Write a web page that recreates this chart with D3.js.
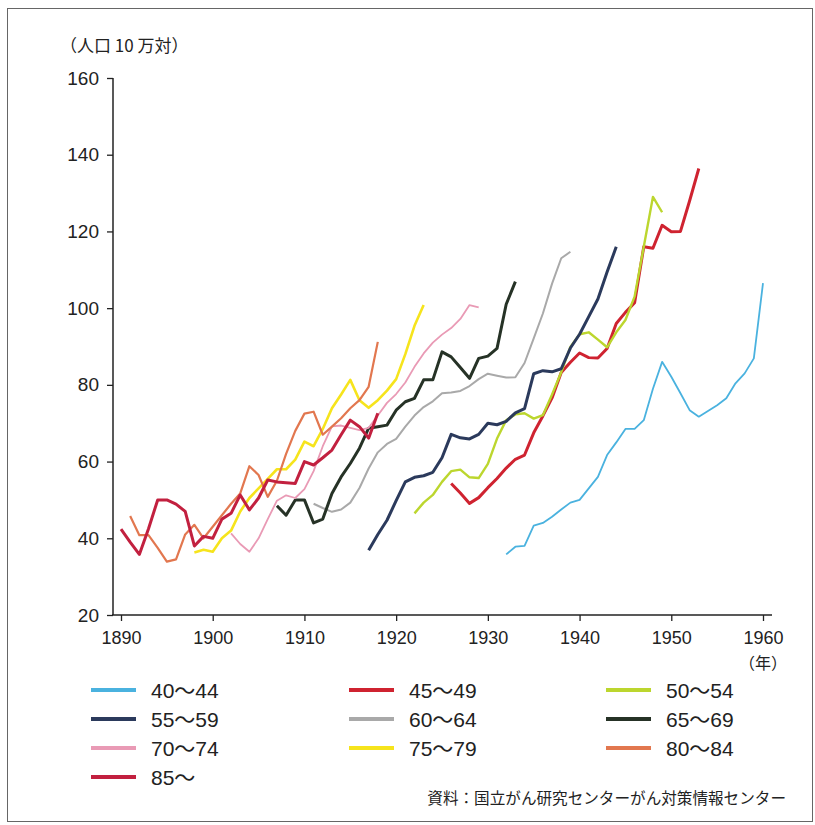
<!DOCTYPE html>
<html lang="ja">
<head>
<meta charset="utf-8">
<title>年齢階級別 がん死亡率の推移</title>
<script src="https://d3js.org/d3.v7.min.js"></script>
<style>
  body { margin: 0; background: #fff; }
  svg text { font-family: "Liberation Sans", Arial, "Noto Sans CJK JP", sans-serif; fill: #222; }
  .jp { font-family: "Noto Sans CJK JP", sans-serif; }
</style>
</head>
<body>
<div id="chart"></div>
<script>

// age groups (legend order) and the first year of each series
var groups     = ["40～44", "45～49", "50～54", "55～59", "60～64", "65～69", "70～74", "75～79", "80～84", "85～"];
var startYears = [1932, 1926, 1922, 1917, 1911, 1907, 1902, 1898, 1891, 1890];

// rates per 100,000, one value per year from the start year
var v40_44 = [35.8, 37.8, 38, 43.3, 44, 45.6, 47.5, 49.3, 50, 53, 56, 61.7, 65, 68.5, 68.5, 70.8, 79, 86, 82.1, 77.8, 73.4, 71.7, 73.2, 74.7, 76.5, 80.4, 83, 86.9, 106.5];
var v45_49 = [54.3, 51.8, 49.1, 50.6, 53.2, 55.6, 58.3, 60.6, 61.7, 67.5, 71.9, 76.6, 83.2, 85.9, 88.3, 87.1, 87, 89.5, 96, 98.9, 101.4, 116, 115.6, 121.6, 119.9, 120, 128, 136.4];
var v50_54 = [46.5, 49.3, 51.3, 54.7, 57.5, 57.9, 55.9, 55.7, 59.4, 66, 70.8, 72.3, 72.6, 71.2, 72.1, 77.5, 83.3, 89.9, 93.2, 93.7, 91.8, 89.8, 93.7, 96.9, 103, 116, 129, 125];
var v55_59 = [36.9, 41, 44.7, 49.8, 54.7, 55.9, 56.3, 57.2, 61, 67.1, 66.2, 65.9, 67.1, 70, 69.6, 70.5, 72.7, 73.8, 82.9, 83.7, 83.4, 84.2, 89.6, 93.2, 97.8, 102.4, 109.4, 116];
var v60_64 = [49, 47.9, 46.9, 47.5, 49.3, 53.1, 58.2, 62.4, 64.6, 65.9, 69.1, 72, 74.2, 75.7, 77.8, 78, 78.4, 79.7, 81.5, 82.9, 82.4, 81.9, 82, 85.7, 92.1, 98.6, 106.4, 113, 114.7];
var v65_69 = [48.5, 46, 50, 50, 44, 45, 51.7, 56, 59.5, 63.5, 68.7, 69.1, 69.5, 73.4, 75.6, 76.5, 81.3, 81.3, 88.6, 87.3, 84.5, 81.7, 86.9, 87.5, 89.5, 101, 106.9];
var v70_74 = [41.3, 38.5, 36.5, 40, 45, 49.8, 51.2, 50.5, 52.8, 57.5, 64, 69.2, 69.4, 68.8, 68.2, 68.8, 72, 75.3, 77.6, 80.6, 84.7, 88.2, 91, 93.1, 94.8, 97.2, 100.8, 100.2];
var v75_79 = [36.3, 37, 36.5, 40, 42, 47, 50.5, 53, 55.5, 58, 58, 60.5, 65.2, 64, 68.5, 73.9, 77.5, 81.3, 76, 74, 76, 78.5, 81.5, 88, 95.4, 100.8];
var v80_84 = [45.8, 40.8, 40.8, 37.5, 33.9, 34.5, 41, 43.5, 40, 43, 46, 49, 51.7, 58.8, 56.5, 50.8, 55, 62, 68, 72.5, 73, 67, 69.1, 71.3, 73.9, 76, 79.5, 91.2];
var v85    = [42.4, 39, 35.8, 42.5, 50, 50, 48.9, 47, 38, 40.5, 40, 45, 46.5, 51.3, 47.4, 50.5, 55.2, 54.7, 54.5, 54.3, 60, 59.1, 61, 63, 67, 70.8, 69.1, 66.1, 72.6];

var yTicks = [20, 40, 60, 80, 100, 120, 140, 160];
var xTicks = [1890, 1900, 1910, 1920, 1930, 1940, 1950, 1960];

var seriesValues = [v40_44, v45_49, v50_54, v55_59, v60_64, v65_69, v70_74, v75_79, v80_84, v85];
var colors = ["#4ab2df", "#cf2330", "#bcd62e", "#2b3a5c", "#a9a9a9", "#263226", "#e99ab5", "#f6e41c", "#e2774f", "#c2203f"];
var widths = [1.8, 3, 2.4, 3, 2, 3, 1.8, 2.6, 2.2, 3];

var series = groups.map(function(g, i) {
  return {
    name: g,
    color: colors[i],
    width: widths[i],
    points: seriesValues[i].map(function(v, j) { return { year: startYears[i] + j, value: v }; })
  };
});

var W = 815, H = 825;

var svg = d3.select("#chart")
  .append("svg")
  .attr("width", W)
  .attr("height", H);

// frame
svg.append("rect")
  .attr("x", 7.5).attr("y", 8.5)
  .attr("width", 805).attr("height", 813)
  .attr("fill", "none")
  .attr("stroke", "#666")
  .attr("stroke-width", 1);

var x = d3.scaleLinear().domain([1890, 1960]).range([121, 763]);
var y = d3.scaleLinear().domain([20, 160]).range([615, 78]);

// axes
var yAxis = svg.append("g")
  .attr("transform", "translate(113,0)")
  .call(d3.axisLeft(y).tickValues(yTicks).tickSize(6).tickSizeOuter(0).tickPadding(8));
yAxis.select(".domain").remove();
yAxis.selectAll("text").style("font-size", "19px");

var xAxis = svg.append("g")
  .attr("transform", "translate(0,615)")
  .call(d3.axisBottom(x).tickValues(xTicks).tickFormat(d3.format("d")).tickSize(6).tickSizeOuter(0).tickPadding(10));
xAxis.select(".domain").remove();
xAxis.selectAll("text").style("font-size", "18px");

svg.selectAll(".tick line").attr("stroke", "#222").attr("stroke-width", 1.3);

svg.append("line")
  .attr("x1", 113).attr("x2", 113).attr("y1", y(160)).attr("y2", 615)
  .attr("stroke", "#222").attr("stroke-width", 1.5);
svg.append("line")
  .attr("x1", 112).attr("x2", 772).attr("y1", 615).attr("y2", 615)
  .attr("stroke", "#222").attr("stroke-width", 1.5);

// axis captions
svg.append("text")
  .attr("class", "jp")
  .attr("x", 60).attr("y", 52)
  .style("font-size", "17px")
  .text("（人口 10 万対）");

svg.append("text")
  .attr("class", "jp")
  .attr("x", 763).attr("y", 669)
  .attr("text-anchor", "middle")
  .style("font-size", "16px")
  .text("（年）");

// lines
var line = d3.line()
  .x(function(d) { return x(d.year); })
  .y(function(d) { return y(d.value); });

svg.append("g")
  .selectAll("path")
  .data(series)
  .enter()
  .append("path")
    .attr("d", function(d) { return line(d.points); })
    .attr("fill", "none")
    .attr("stroke", function(d) { return d.color; })
    .attr("stroke-width", function(d) { return d.width; })
    .attr("stroke-linejoin", "round");

// legend, three columns
var colX = [91, 349, 606];
var rowY = [690, 719, 748, 777];

var legend = svg.append("g")
  .selectAll("g")
  .data(series)
  .enter()
  .append("g")
    .attr("transform", function(d, i) { return "translate(" + colX[i % 3] + "," + rowY[Math.floor(i / 3)] + ")"; });

legend.append("line")
  .attr("x1", 0).attr("x2", 45)
  .attr("y1", 0).attr("y2", 0)
  .attr("stroke", function(d) { return d.color; })
  .attr("stroke-width", 4);

legend.append("text")
  .attr("x", 60).attr("y", 8)
  .style("font-size", "21px")
  .text(function(d) { return d.name; });

// source
svg.append("text")
  .attr("class", "jp")
  .attr("x", 786).attr("y", 804)
  .attr("text-anchor", "end")
  .style("font-size", "15.6px")
  .text("資料：国立がん研究センターがん対策情報センター");

</script>
</body>
</html>
